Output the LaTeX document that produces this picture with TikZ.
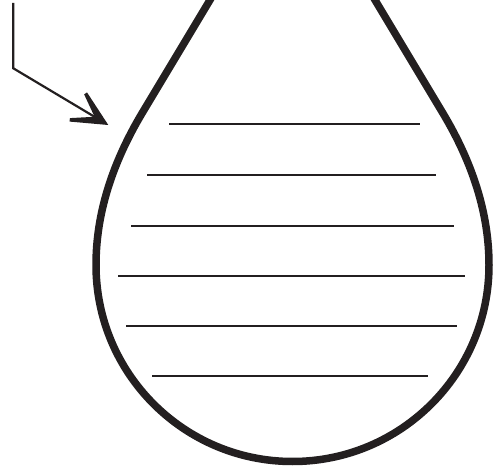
\documentclass[tikz,border=0pt]{standalone}
\usetikzlibrary{calc}
\definecolor{ink}{HTML}{231F20}
\begin{document}
\begin{tikzpicture}[x=1pt,y=1pt,yscale=-1,
  dropline/.style={draw=ink,line width=7.5pt,line join=round},
  ruled/.style={draw=ink,line width=2.4pt},
  pointer/.style={draw=ink,line width=2.2pt,line join=miter},
  pointerhead/.style={fill=ink}]
\useasboundingbox (0,0) rectangle (493,468);
\clip (0,0) rectangle (493,468);
% drop outline
\draw[dropline] (292.5,-137.5) -- (142.5,112.5)
  .. controls (111.5,164.2) and (96,214.8) .. (96,265)
  arc[start angle=180,end angle=0,radius=196.5]
  .. controls (489,214.8) and (473.5,164.2) .. (442.5,112.5) -- cycle;
% writing lines
\draw[ruled] (169,124) -- (420,124);
\draw[ruled] (147,175) -- (436,175);
\draw[ruled] (131,226) -- (454,226);
\draw[ruled] (118,276) -- (465,276);
\draw[ruled] (126,326) -- (457,326);
\draw[ruled] (152,376) -- (428,376);
% pointer arrow
\coordinate (tail) at (13.3,3);
\coordinate (bend) at (13.3,68.3);
\coordinate (tip) at (108.3,125);
\draw[pointer,shorten >=14pt] (tail) -- (bend) -- (tip);
\fill[pointerhead] (tip) -- (69.56,121.58) -- (69.9,118.11) -- (94.59,116.78)
  -- (84.14,94.37) -- (87.04,92.44) -- cycle;
\end{tikzpicture}
\end{document}
